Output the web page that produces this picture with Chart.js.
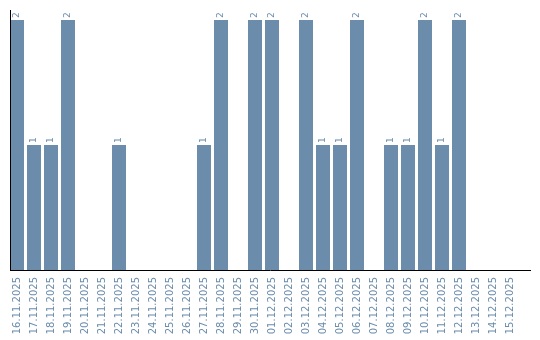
<!DOCTYPE html>
<html>
<head>
<meta charset="utf-8">
<script src="https://cdn.jsdelivr.net/npm/chart.js@4/dist/chart.umd.min.js"></script>
<style>
html,body{margin:0;padding:0;background:#fff;}
#wrap{width:540px;height:340px;position:relative;}
</style>
</head>
<body>
<div id="wrap"><canvas id="c" width="540" height="340"></canvas></div>
<script>
const categories = ["16.11.2025","17.11.2025","18.11.2025","19.11.2025","20.11.2025","21.11.2025","22.11.2025","23.11.2025","24.11.2025","25.11.2025","26.11.2025","27.11.2025","28.11.2025","29.11.2025","30.11.2025","01.12.2025","02.12.2025","03.12.2025","04.12.2025","05.12.2025","06.12.2025","07.12.2025","08.12.2025","09.12.2025","10.12.2025","11.12.2025","12.12.2025","13.12.2025","14.12.2025","15.12.2025"];
const counts = [2,1,1,2,0,0,1,0,0,0,0,1,2,0,2,2,0,2,1,1,2,0,1,1,2,1,2,0,0,0];

const BAR = '#6b8cab';
const TXT = '#6b8cab';

const customDraw = {
  id: 'customDraw',
  afterDatasetsDraw(chart) {
    const ctx = chart.ctx;
    const meta = chart.getDatasetMeta(0);
    ctx.save();
    ctx.fillStyle = TXT;
    ctx.font = '9px "DejaVu Sans"';
    ctx.textBaseline = 'middle';
    ctx.textAlign = 'left';
    meta.data.forEach((bar, i) => {
      const v = counts[i];
      if (!v) return;
      ctx.save();
      ctx.translate(bar.x, bar.y - 2);
      ctx.rotate(-Math.PI / 2);
      ctx.fillText(String(v), 0, 0);
      ctx.restore();
    });
    // axis lines
    const a = chart.chartArea;
    ctx.strokeStyle = '#000';
    ctx.lineWidth = 1;
    ctx.beginPath();
    ctx.moveTo(10.5, 10);
    ctx.lineTo(10.5, 271);
    ctx.moveTo(10, 270.5);
    ctx.lineTo(531, 270.5);
    ctx.stroke();
    // tick labels
    const xs = chart.scales.x;
    ctx.font = '10px "DejaVu Sans"';
    ctx.fillStyle = TXT;
    ctx.textAlign = 'right';
    ctx.textBaseline = 'middle';
    categories.forEach((lab, i) => {
      const x = xs.getPixelForTick(i);
      ctx.save();
      ctx.translate(x + 0.5, 277);
      ctx.rotate(-Math.PI / 2);
      ctx.fillText(lab, 0, 0);
      ctx.restore();
    });
    ctx.restore();
  }
};

new Chart(document.getElementById('c'), {
  type: 'bar',
  data: {
    labels: categories,
    datasets: [{
      data: counts,
      backgroundColor: BAR,
      borderWidth: 0,
      categoryPercentage: 1,
      barPercentage: 14/17
    }]
  },
  options: {
    responsive: false,
    animation: false,
    devicePixelRatio: 1,
    layout: { padding: { left: 8.5, right: 21.5, top: 10, bottom: 0 } },
    plugins: { legend: { display: false }, tooltip: { enabled: false } },
    scales: {
      x: {
        display: true,
        grid: { display: false, drawTicks: false },
        border: { display: false },
        ticks: { display: false },
        afterFit(s) { s.height = 70; }
      },
      y: {
        display: false,
        min: 0,
        max: 2.08
      }
    }
  },
  plugins: [customDraw]
});
</script>
</body>
</html>
